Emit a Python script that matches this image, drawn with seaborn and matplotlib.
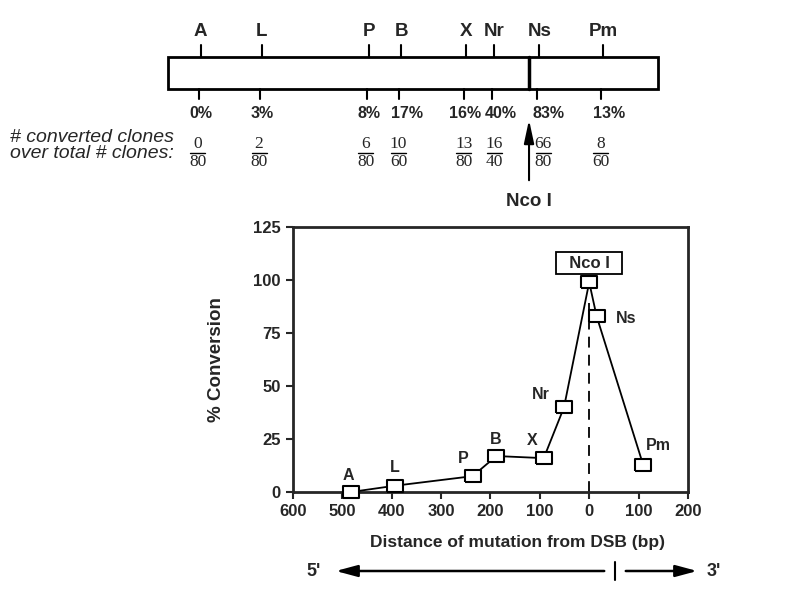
import pandas as pd
import seaborn as sns
import matplotlib.pyplot as plt
from matplotlib.patches import Rectangle

# conversion profile (bottom panel)
sites = ["A", "L", "P", "B", "X", "Nr", "Nco I", "Ns", "Pm"]
distance = [-483, -393, -236, -188, -92, -51, 0, 15, 109]
conversion = [0, 3, 7.5, 17, 16, 40, 99, 83, 13]

# schematic (top panel)
mut_sites = ["A", "L", "P", "B", "X", "Nr", "Ns", "Pm"]
mut_dist = [-483, -393, -236, -188, -92, -51, 15, 109]
pct_labels = ["0%", "3%", "8%", "17%", "16%", "40%", "83%", "13%"]
converted = [0, 2, 6, 10, 13, 16, 66, 8]
total = [80, 80, 80, 60, 80, 40, 80, 60]

xticks = [-600, -500, -400, -300, -200, -100, 0, 100, 200]
yticks = [0, 25, 50, 75, 100, 125]

sns.set_style("ticks")
plt.rcParams["font.family"] = ["Liberation Sans", "DejaVu Sans"]
plt.rcParams["font.weight"] = "bold"

fig = plt.figure(figsize=(8, 5.9), dpi=100)

# ---- top schematic, x in bp, y in figure pixels
ax_s = fig.add_axes([0, 0, 1, 1])
ax_s.set_xlim(-778, 398.5)
ax_s.set_ylim(590, 0)
ax_s.axis("off")
ax_s.patch.set_alpha(0)

ax_s.add_patch(Rectangle((-531, 57), 721, 32, fill=False, lw=2, ec="black"))
ax_s.plot([0, 0], [57, 89], color="black", lw=2.5)
serif = ["Liberation Serif", "DejaVu Serif"]
# small horizontal nudges (bp) so neighbouring labels do not collide
pct_nudge = {"17%": 8, "16%": -2, "40%": 10, "83%": 14, "13%": 8}
frac_nudge = {"16": 4, "66": 10}
for name, d, pct, c, t in zip(mut_sites, mut_dist, pct_labels, converted, total):
    ax_s.plot([d, d], [45, 57], color="black", lw=1.5)
    ax_s.plot([d - 3, d - 3], [89, 99], color="black", lw=1.5)
    ax_s.text(d, 32, name, ha="center", va="center", fontsize=13.5, fontweight="bold")
    ax_s.text(d + pct_nudge.get(pct, 0), 113, pct, ha="center", va="center",
              fontsize=11.5, fontweight="bold")
    fx = d - 4 + frac_nudge.get(str(c), 0)
    ax_s.text(fx, 144, str(c), ha="center", va="center", fontsize=12.5,
              fontweight="normal", family=serif)
    ax_s.plot([fx - 11, fx + 11], [152.5, 152.5], color="black", lw=1)
    ax_s.text(fx, 162, str(t), ha="center", va="center", fontsize=12.5,
              fontweight="normal", family=serif)

ax_s.annotate("", xy=(0, 117), xytext=(0, 183),
              arrowprops=dict(arrowstyle="-|>,head_length=1.4,head_width=0.3",
                              color="black", lw=1.5))
ax_s.text(0, 201, "Nco I", ha="center", va="center", fontsize=13.5, fontweight="bold")

fig.text(10 / 800, 1 - 137 / 590, "# converted clones", fontsize=14,
         fontstyle="italic", fontweight="normal", va="center", ha="left")
fig.text(10 / 800, 1 - 154 / 590, "over total # clones:", fontsize=14,
         fontstyle="italic", fontweight="normal", va="center", ha="left")

# ---- bottom arrows
fig.text(314 / 800, 19 / 590, "5'", fontsize=13, fontweight="bold", ha="center", va="center")
fig.text(714 / 800, 19 / 590, "3'", fontsize=13, fontweight="bold", ha="center", va="center")
ax_s.annotate("", xy=(333, 19), xytext=(607, 19), xycoords="figure pixels",
              arrowprops=dict(arrowstyle="-|>,head_length=1.3,head_width=0.35",
                              color="black", lw=1.8))
ax_s.annotate("", xy=(700, 19), xytext=(623, 19), xycoords="figure pixels",
              arrowprops=dict(arrowstyle="-|>,head_length=1.3,head_width=0.35",
                              color="black", lw=1.8))
ax_s.plot([615 / 800 * 1176.5 - 778] * 2, [562, 580], color="black", lw=1.5)

# ---- main plot
df = pd.DataFrame({"site": sites, "distance": distance, "conversion": conversion})
ax = fig.add_axes([0.366, 0.166, 0.494, 0.449])
rect = [(-1.35, -1), (1.35, -1), (1.35, 1), (-1.35, 1), (-1.35, -1)]
sns.lineplot(data=df, x="distance", y="conversion", ax=ax, color="black", lw=1.3,
             marker=rect, markersize=12, markerfacecolor="white",
             markeredgecolor="black", markeredgewidth=1.5)
for ln in ax.lines:
    ln.set_clip_on(False)
    ln.set_zorder(5)

ax.vlines(0, 0, 89, colors="black", linestyles=(0, (6, 4)), lw=1.3)

label_offsets = {"A": (-4, 8), "L": (0, 8.5), "P": (-19, 8.5), "B": (-2, 8),
                 "X": (-23, 8.5), "Nr": (-46, 6), "Ns": (60, -1), "Pm": (31, 9)}
for name, x, y in zip(sites, distance, conversion):
    if name in label_offsets:
        dx, dy = label_offsets[name]
        ax.text(x + dx, y + dy, name, ha="center", va="center", fontsize=11.5,
                fontweight="bold")
ax.text(0, 108, "  Nco I  ", ha="center", va="center", fontsize=12, fontweight="bold",
        bbox=dict(boxstyle="square,pad=0.2", fc="white", ec="black", lw=1.3))

ax.set_xlim(-600, 200)
ax.set_ylim(0, 125)
ax.set_xticks(xticks)
ax.set_xticklabels([str(abs(v)) for v in xticks])
ax.set_yticks(yticks)
ax.tick_params(direction="out", length=5, width=1.5, labelsize=12)
for lab in ax.get_xticklabels() + ax.get_yticklabels():
    lab.set_fontweight("bold")
for sp in ax.spines.values():
    sp.set_visible(True)
    sp.set_linewidth(2)
ax.set_xlabel("")
ax.set_ylabel("% Conversion", fontsize=13.5, fontweight="bold", labelpad=20)
fig.text(518 / 800, 1 - 543 / 590, "Distance of mutation from DSB (bp)", fontsize=12.5,
         fontweight="bold", ha="center", va="center")

fig.savefig("out.png", dpi=100)
